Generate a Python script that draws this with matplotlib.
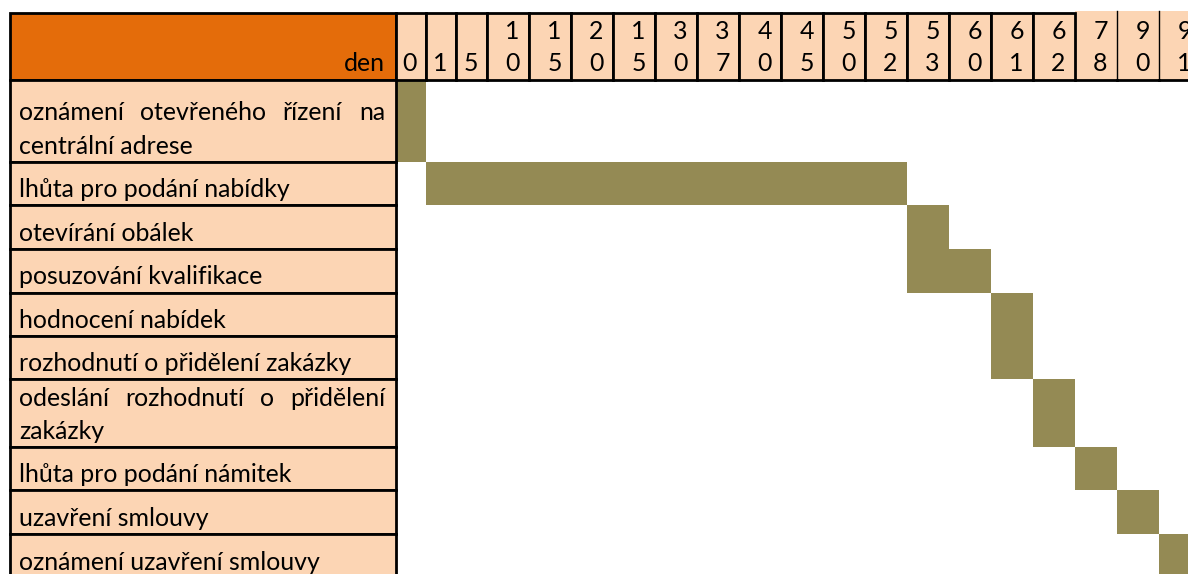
import matplotlib
matplotlib.use("Agg")
import matplotlib.pyplot as plt
from matplotlib.patches import Rectangle

# header day numbers (as written in the sheet, incl. the second "15")
days = [0, 1, 5, 10, 15, 20, 15, 30, 37, 40, 45, 50, 52, 53, 60, 61, 62, 78, 90, 91]

tasks = [
    "oznámení otevřeného řízení na\ncentrální adrese",
    "lhůta pro podání nabídky",
    "otevírání obálek",
    "posuzování kvalifikace",
    "hodnocení nabídek",
    "rozhodnutí o přidělení zakázky",
    "odeslání rozhodnutí o přidělení\nzakázky",
    "lhůta pro podání námitek",
    "uzavření smlouvy",
    "oznámení uzavření smlouvy",
]

# first and last day column filled for each task
task_start = [0, 1, 53, 53, 61, 61, 62, 78, 90, 91]
task_end = [0, 52, 53, 60, 61, 61, 62, 78, 90, 91]

ORANGE = "#E46C0A"
PEACH = "#FCD5B4"
OLIVE = "#948A54"
FONT = "Lato"

# layout in pixels
W, H = 1188, 574
TABLE_X0 = 9.5
LABEL_X1 = 395.5
HEAD_Y0, HEAD_Y1 = 12.5, 80
NARROW_W, WIDE_W = 30.4, 42.0
ROW_H = [81.5, 43.5, 44, 43.5, 43.5, 43, 68, 43, 44, 44]
LW = 2.0
N_BORDERED = 17  # header columns with full borders

col_edges = [LABEL_X1]
for i in range(len(days)):
    col_edges.append(col_edges[-1] + (NARROW_W if i < 3 else WIDE_W))

row_edges = [HEAD_Y1]
for h in ROW_H:
    row_edges.append(row_edges[-1] + h)


def col_index(day):
    # last column carrying that day number
    return len(days) - 1 - days[::-1].index(day)


fig = plt.figure(figsize=(W / 100, H / 100), dpi=100)
ax = fig.add_axes([0, 0, 1, 1])
ax.set_xlim(0, W)
ax.set_ylim(H, 0)
ax.axis("off")
renderer = fig.canvas.get_renderer()

# pick font size so a label matches the measured width
probe = ax.text(0, 0, tasks[1], fontsize=18, family=FONT)
probe_w = probe.get_window_extent(renderer).width
probe.remove()
FS = 18 * 270 / probe_w


def text_width(s):
    t = ax.text(0, 0, s, fontsize=FS, family=FONT)
    w = t.get_window_extent(renderer).width
    t.remove()
    return w


def draw_justified(line, x0, x1, y):
    words = line.split()
    widths = [text_width(w) for w in words]
    gap = (x1 - x0 - sum(widths)) / (len(words) - 1)
    x = x0
    for w, ww in zip(words, widths):
        ax.text(x, y, w, fontsize=FS, family=FONT, va="baseline", ha="left", zorder=5)
        x += ww + gap


# gantt bars
for r in range(len(tasks)):
    c0 = col_index(task_start[r])
    c1 = col_index(task_end[r])
    left = col_edges[c0]
    width = col_edges[c1 + 1] - left
    yc = (row_edges[r] + row_edges[r + 1]) / 2
    ax.barh(yc, width, left=left, height=ROW_H[r], color=OLIVE, linewidth=0, zorder=1)

# header
ax.add_patch(Rectangle((TABLE_X0, HEAD_Y0), LABEL_X1 - TABLE_X0, HEAD_Y1 - HEAD_Y0,
                       facecolor=ORANGE, edgecolor="black", linewidth=LW, zorder=3))
ax.text(LABEL_X1 - 11, HEAD_Y1 - 9, "den", fontsize=FS, family=FONT,
        ha="right", va="baseline", zorder=5)

for i, d in enumerate(days):
    x0, x1 = col_edges[i], col_edges[i + 1]
    if i < N_BORDERED:
        ax.add_patch(Rectangle((x0, HEAD_Y0), x1 - x0, HEAD_Y1 - HEAD_Y0,
                               facecolor=PEACH, edgecolor="black", linewidth=LW, zorder=3))
    else:
        top = HEAD_Y0 - 1.5
        ax.add_patch(Rectangle((x0, top), x1 - x0, HEAD_Y1 - top, facecolor=PEACH,
                               edgecolor="none", zorder=2))
        ax.plot([x0, x1], [HEAD_Y1, HEAD_Y1], color="black", linewidth=LW, zorder=3)
        ax.plot([x1, x1], [top, HEAD_Y1], color="black", linewidth=1.0, zorder=3)
    s = str(d)
    xr = x1 - 9
    if len(s) == 2:
        ax.text(xr, HEAD_Y1 - 41, s[0], fontsize=FS, family=FONT, ha="right", va="baseline", zorder=5)
        ax.text(xr, HEAD_Y1 - 9, s[1], fontsize=FS, family=FONT, ha="right", va="baseline", zorder=5)
    else:
        ax.text(xr, HEAD_Y1 - 9, s, fontsize=FS, family=FONT, ha="right", va="baseline", zorder=5)

# task labels
TEXT_X0, TEXT_X1 = 19, 385
LINE_H = 33
for r, label in enumerate(tasks):
    y0, y1 = row_edges[r], row_edges[r + 1]
    ax.add_patch(Rectangle((TABLE_X0, y0), LABEL_X1 - TABLE_X0, y1 - y0,
                           facecolor=PEACH, edgecolor="black", linewidth=LW, zorder=3))
    lines = label.split("\n")
    base = y1 - 8
    for k, line in enumerate(lines):
        y = base - LINE_H * (len(lines) - 1 - k)
        if k < len(lines) - 1:
            draw_justified(line, TEXT_X0, TEXT_X1, y)
        else:
            ax.text(TEXT_X0, y, line, fontsize=FS, family=FONT, ha="left", va="baseline", zorder=5)

fig.savefig("out.png", dpi=100)
